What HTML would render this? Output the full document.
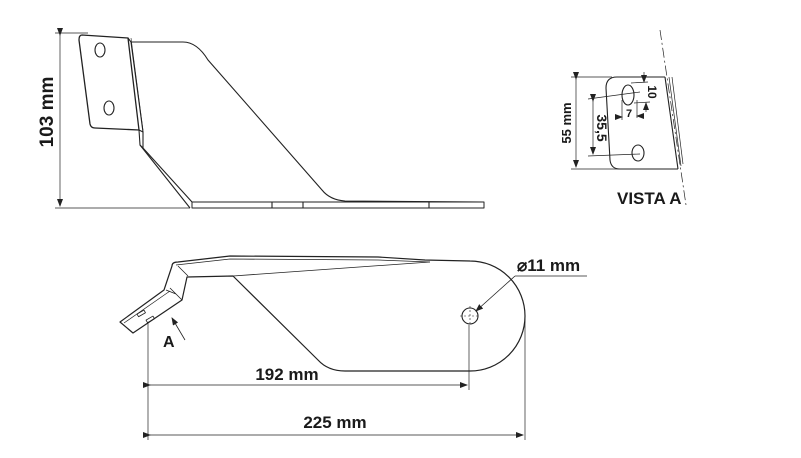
<!DOCTYPE html>
<html><head><meta charset="utf-8"><style>
html,body{margin:0;padding:0;background:#fff;}
svg{display:block;}
text{font-family:"Liberation Sans Narrow","Liberation Sans",sans-serif;font-weight:bold;fill:#1a1a1a;}
</style></head><body>
<svg width="801" height="458" viewBox="0 0 801 458" xmlns="http://www.w3.org/2000/svg">
<defs>
<marker id="ar" markerWidth="8" markerHeight="6" refX="7" refY="3" orient="auto" markerUnits="userSpaceOnUse"><path d="M0,0 L8,3 L0,6 z" fill="#222"/></marker>
</defs>
<g fill="none" stroke="#222" stroke-width="1.1" stroke-linejoin="round">
<!-- side view -->
<line x1="55" y1="33" x2="88" y2="33" stroke-width="0.7"/>
<line x1="55" y1="208" x2="190" y2="208" stroke-width="0.7"/>
<line x1="60" y1="35" x2="60" y2="206" stroke-width="0.7" marker-start="url(#ar)" marker-end="url(#ar)"/>
<path d="M82,35 L128,38 L139,130 L95,128 Q91,128 90,124 L79,40 Q79,35 82,35 Z" stroke-width="1.3"/>
<ellipse cx="100" cy="50" rx="5" ry="7"/>
<ellipse cx="109" cy="108" rx="5" ry="7"/>
<path d="M128,38 L131,42 L143,132 L139,130"/>
<path d="M131,38 L143,130" stroke-width="0.6"/>
<path d="M139,130 L140,145 L143,148 L143,132"/>
<path d="M131,42 L183,42 Q197,42 208,60 L322,190 Q330,200 345,201 L484,202"/>
<path d="M140,145 L190,208"/>
<path d="M143,148 L192,202"/>
<rect x="192" y="202" width="292" height="6" stroke-width="1"/>
<line x1="272" y1="202" x2="272" y2="208"/>
<line x1="303" y1="202" x2="303" y2="208"/>
<line x1="429" y1="202" x2="429" y2="208"/>
<!-- vista A -->
<line x1="660" y1="30" x2="686" y2="205" stroke-width="0.7" stroke-dasharray="10,3,2,3"/>
<path d="M665,77 L617,77 Q606,77 606,88 L610,160 Q611,169 620,169 L678,169"/>
<path d="M665,77 L678,169"/>
<path d="M669,77 L681,166" stroke-width="0.7"/>
<path d="M672,77 L683,164" stroke-width="0.7"/>
<ellipse cx="628" cy="95" rx="6" ry="10"/>
<ellipse cx="638" cy="153" rx="6" ry="8"/>
<line x1="571" y1="77" x2="612" y2="77" stroke-width="0.7"/>
<line x1="571" y1="169" x2="620" y2="169" stroke-width="0.7"/>
<line x1="576" y1="79" x2="576" y2="167" stroke-width="0.7" marker-start="url(#ar)" marker-end="url(#ar)"/>
<line x1="588" y1="99" x2="640" y2="92" stroke-width="0.7"/>
<line x1="588" y1="156" x2="640" y2="154" stroke-width="0.7"/>
<line x1="593" y1="101" x2="593" y2="154" stroke-width="0.7" marker-start="url(#ar)" marker-end="url(#ar)"/>
<line x1="631" y1="83" x2="648" y2="82" stroke-width="0.7"/>
<line x1="634" y1="103" x2="650" y2="102" stroke-width="0.7"/>
<line x1="644" y1="72" x2="644" y2="82" stroke-width="0.7" marker-end="url(#ar)"/>
<line x1="646" y1="112" x2="646" y2="103" stroke-width="0.7" marker-end="url(#ar)"/>
<line x1="622" y1="100" x2="622" y2="120" stroke-width="0.7"/>
<line x1="637" y1="100" x2="637" y2="118" stroke-width="0.7"/>
<line x1="615" y1="117" x2="622" y2="117" stroke-width="0.7" marker-end="url(#ar)"/>
<line x1="644" y1="116" x2="637" y2="116" stroke-width="0.7" marker-end="url(#ar)"/>
<!-- bottom view -->
<path d="M172,266 Q172,262 178,262 L230,256 L378,257 L425,260 L470,261 A55,55 0 0 1 470,371 L345,371 Q328,371 318,360 L233,276 L187,277 L182,300 L133,333 L120,322 L164,290 Z" stroke-width="1.2"/>
<path d="M178,266 L188,276" stroke-width="0.8"/>
<path d="M176,265 L230,259 L378,260 L430,262" stroke-width="0.8"/>
<path d="M233,276 L430,262" stroke-width="0.8"/>
<path d="M170,288 L182,300 M166,290 L176,294" stroke-width="0.8"/>
<path d="M124,323 L170,291" stroke-width="0.7"/>
<rect x="137" y="312" width="8" height="3" transform="rotate(-30 141 313)" stroke-width="0.8"/>
<rect x="146" y="318" width="8" height="3" transform="rotate(-30 150 319)" stroke-width="0.8"/>
<circle cx="470" cy="316" r="8"/>
<path d="M460,316 H480 M470,306 V326" stroke-width="0.6" stroke-dasharray="2,2"/>
<line x1="587" y1="276" x2="515" y2="276" stroke-width="0.8"/>
<line x1="515" y1="276" x2="476" y2="311" stroke-width="0.8" marker-end="url(#ar)"/>
<line x1="185" y1="340" x2="172" y2="318" stroke-width="0.8" marker-end="url(#ar)"/>
<line x1="148" y1="322" x2="148" y2="440" stroke-width="0.7"/>
<line x1="469" y1="325" x2="469" y2="390" stroke-width="0.7"/>
<line x1="525" y1="318" x2="525" y2="440" stroke-width="0.7"/>
<line x1="150" y1="385" x2="467" y2="385" stroke-width="0.7" marker-start="url(#ar)" marker-end="url(#ar)"/>
<line x1="150" y1="435" x2="523" y2="435" stroke-width="0.7" marker-start="url(#ar)" marker-end="url(#ar)"/>
</g>
<text x="0" y="0" font-size="19" text-anchor="middle" transform="translate(53,112) rotate(-90)">103 mm</text>
<text x="0" y="0" font-size="13" text-anchor="middle" transform="translate(571,123) rotate(-90)">55 mm</text>
<text x="0" y="0" font-size="14" text-anchor="middle" transform="translate(597,128) rotate(90)">35,5</text>
<text x="0" y="0" font-size="12" text-anchor="middle" transform="translate(648,92) rotate(90)">10</text>
<text x="629" y="117" font-size="11" text-anchor="middle">7</text>
<text x="617" y="204" font-size="17">VISTA A</text>
<text x="517" y="271" font-size="17">⌀11 mm</text>
<text x="163" y="347" font-size="16">A</text>
<text x="287" y="380" font-size="17" text-anchor="middle">192 mm</text>
<text x="335" y="428" font-size="17" text-anchor="middle">225 mm</text>
</svg>
</body></html>
